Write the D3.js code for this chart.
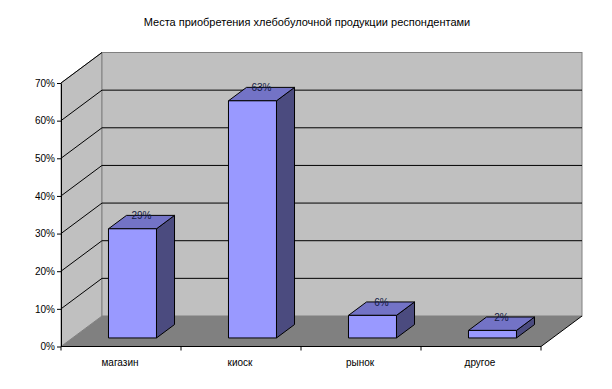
<!DOCTYPE html>
<html>
<head>
<meta charset="utf-8">
<script src="https://cdn.jsdelivr.net/npm/d3@7"></script>
<style>
  body { margin: 0; background: #fff; }
  svg { display: block; font-family: "Liberation Sans", Arial, sans-serif; }
</style>
</head>
<body>
<svg id="chart"></svg>
<script>
// data
const title = "Места приобретения хлебобулочной продукции респондентами";
const categories = ["магазин", "киоск", "рынок", "другое"];
const shares = [0.29, 0.63, 0.06, 0.02];
const yTicks = [0, 0.1, 0.2, 0.3, 0.4, 0.5, 0.6, 0.7];

const width = 612, height = 389;
const plotLeft = 61, plotRight = 541, plotBottom = 346.5, plotTop = 83;
const depth = { dx: 41, dy: -30.5 };   // offset front plane -> back wall
const barZ = [0.28, 0.72];             // bar sits in the middle of the depth

const svg = d3.select("#chart")
    .attr("width", width)
    .attr("height", height)
    .attr("viewBox", [0, 0, width, height]);

const x = d3.scaleBand(categories, [plotLeft, plotRight])
    .paddingInner(0.6)
    .paddingOuter(0.3);
const y = d3.scaleLinear([0, 0.7], [plotBottom, plotTop]);

// project a front-plane point back by fraction z of the depth
const px = (xv, z) => xv + z * depth.dx;
const py = (v, z) => y(v) + z * depth.dy;
const pts = arr => arr.map(p => p.join(",")).join(" ");

// walls
svg.append("polygon")   // left wall
    .attr("points", pts([[px(plotLeft, 0), py(0.7, 0)], [px(plotLeft, 1), py(0.7, 1)],
                         [px(plotLeft, 1), py(0, 1)], [px(plotLeft, 0), py(0, 0)]]))
    .attr("fill", "#c0c0c0").attr("stroke", "#808080");

svg.append("rect")      // back wall
    .attr("x", px(plotLeft, 1)).attr("y", py(0.7, 1))
    .attr("width", plotRight - plotLeft).attr("height", y(0) - y(0.7))
    .attr("fill", "#c0c0c0").attr("stroke", "#808080");

svg.append("polygon")   // floor
    .attr("points", pts([[px(plotLeft, 0), py(0, 0)], [px(plotRight, 0), py(0, 0)],
                         [px(plotRight, 1), py(0, 1)], [px(plotLeft, 1), py(0, 1)]]))
    .attr("fill", "#808080");

// gridlines: back wall + left wall diagonals
const grid = svg.append("g").attr("stroke", "#000").attr("stroke-width", 1);
grid.selectAll("line.back")
    .data(yTicks.filter(d => d > 0 && d < 0.7))
    .join("line")
    .attr("class", "back")
    .attr("x1", px(plotLeft, 1)).attr("x2", px(plotRight, 1))
    .attr("y1", d => py(d, 1)).attr("y2", d => py(d, 1));
grid.selectAll("line.side")
    .data(yTicks.filter(d => d > 0))
    .join("line")
    .attr("class", "side")
    .attr("x1", px(plotLeft, 0)).attr("x2", px(plotLeft, 1))
    .attr("y1", d => py(d, 0)).attr("y2", d => py(d, 1));

// floor right edge
svg.append("line")
    .attr("x1", px(plotRight, 0)).attr("y1", py(0, 0))
    .attr("x2", px(plotRight, 1)).attr("y2", py(0, 1))
    .attr("stroke", "#000");

// bars
const bars = svg.selectAll("g.bar")
    .data(categories.map((c, i) => ({ c, v: shares[i] })))
    .join("g")
    .classed("bar", true)
    .attr("stroke", "#000")
    .attr("stroke-width", 1)
    .attr("stroke-linejoin", "round");

const z0 = barZ[0], z1 = barZ[1];
bars.append("polygon")  // side
    .attr("fill", "#4b4b7f")
    .attr("points", d => {
        const xr = x(d.c) + x.bandwidth();
        return pts([[px(xr, z0), py(0, z0)], [px(xr, z1), py(0, z1)],
                    [px(xr, z1), py(d.v, z1)], [px(xr, z0), py(d.v, z0)]]);
    });
bars.append("polygon")  // top
    .attr("fill", "#7373c6")
    .attr("points", d => {
        const xl = x(d.c), xr = xl + x.bandwidth();
        return pts([[px(xl, z0), py(d.v, z0)], [px(xr, z0), py(d.v, z0)],
                    [px(xr, z1), py(d.v, z1)], [px(xl, z1), py(d.v, z1)]]);
    });
bars.append("rect")     // front
    .attr("fill", "#9999ff")
    .attr("x", d => px(x(d.c), z0))
    .attr("y", d => py(d.v, z0))
    .attr("width", x.bandwidth())
    .attr("height", d => py(0, z0) - py(d.v, z0));

// value labels
svg.selectAll("text.val")
    .data(categories.map((c, i) => ({ c, v: shares[i] })))
    .join("text")
    .attr("class", "val")
    .attr("x", d => px(x(d.c) + x.bandwidth() / 2, (z0 + z1) / 2))
    .attr("y", d => py(d.v, z1) + 4)
    .attr("text-anchor", "middle")
    .attr("font-size", 10)
    .attr("fill", "#121a44")
    .text(d => d3.format(".0%")(d.v));

// axes
const yAxis = svg.append("g")
    .attr("transform", `translate(${plotLeft},0)`)
    .call(d3.axisLeft(y).tickValues(yTicks).tickFormat(d3.format(".0%"))
        .tickSize(4).tickSizeOuter(0));
yAxis.selectAll("text").attr("font-size", 10).attr("fill", "#000")
    .attr("font-family", "Liberation Sans, Arial, sans-serif").attr("x", -6);

const xAxis = svg.append("g")
    .attr("transform", `translate(0,${plotBottom})`);
xAxis.append("line")
    .attr("x1", plotLeft).attr("x2", plotRight)
    .attr("stroke", "#000");
xAxis.selectAll("line.tick")
    .data(d3.range(categories.length + 1))
    .join("line")
    .attr("class", "tick")
    .attr("x1", i => plotLeft + i * x.step()).attr("x2", i => plotLeft + i * x.step())
    .attr("y1", 0).attr("y2", 4)
    .attr("stroke", "#000");
xAxis.selectAll("text")
    .data(categories)
    .join("text")
    .attr("x", d => x(d) + x.bandwidth() / 2 - 1)
    .attr("y", 19)
    .attr("text-anchor", "middle")
    .attr("font-size", 10)
    .text(d => d);

// title
svg.append("text")
    .attr("x", 307).attr("y", 26)
    .attr("text-anchor", "middle")
    .attr("font-size", 11)
    .text(title);
</script>
</body>
</html>
